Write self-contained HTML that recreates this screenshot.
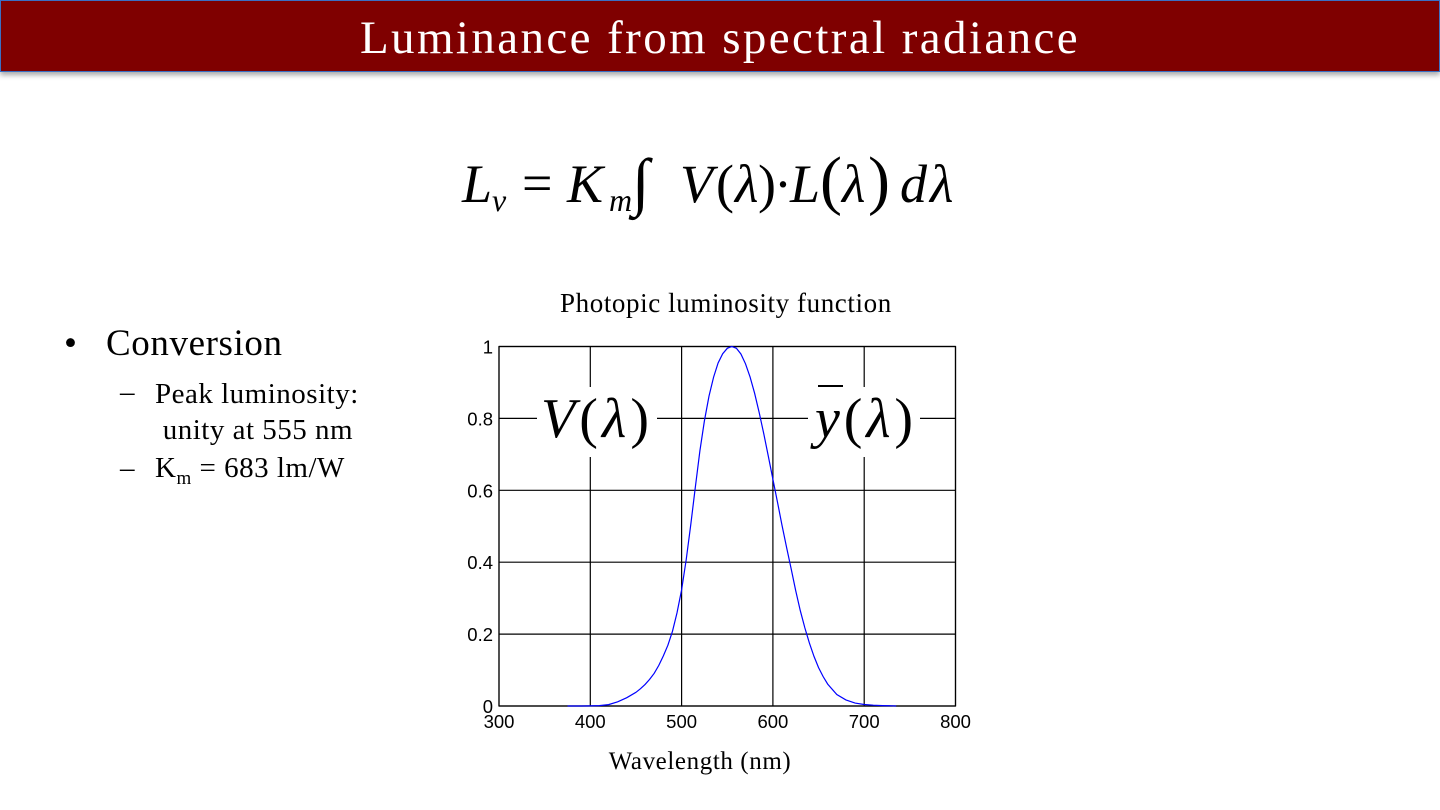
<!DOCTYPE html>
<html><head><meta charset="utf-8">
<style>
body{margin:0;width:1440px;height:810px;background:#fff;overflow:hidden;position:relative;font-family:"Liberation Serif",serif}
.title{position:absolute;left:0;top:0;width:1438px;height:70px;background:#7f0000;border:1px solid #3a6fc4;box-shadow:0 3px 5px rgba(0,0,0,.35);color:#fff;font-size:47px;letter-spacing:2.4px;text-align:center;line-height:74px}
.abs{position:absolute;white-space:nowrap}
.eq span{position:absolute;white-space:nowrap;font-style:italic;font-size:54px;line-height:1}
.eq span.r{font-style:normal}
</style></head><body>
<div class="title">Luminance from spectral radiance</div>
<div class="eq">
<span style="left:462px;top:157px">L</span>
<span style="left:492px;top:184px;font-size:32px">v</span>
<span class="r" style="left:522px;top:156px">=</span>
<span style="left:567px;top:157px">K</span>
<span style="left:609px;top:184px;font-size:32px">m</span>
<span class="r" style="left:632px;top:150px;font-size:64px">∫</span>
<span style="left:680px;top:157px">V</span>
<span class="r" style="left:716px;top:157px">(</span>
<span style="left:735px;top:157px">λ</span>
<span class="r" style="left:758px;top:157px">)</span>
<span class="r" style="left:774px;top:157px">·</span>
<span style="left:790px;top:157px">L</span>
<span class="r" style="left:820px;top:148px;font-size:66px">(</span>
<span style="left:842px;top:157px">λ</span>
<span class="r" style="left:868px;top:148px;font-size:66px">)</span>
<span style="left:900px;top:157px">d</span>
<span style="left:930px;top:157px">λ</span>
</div>
<div class="abs" style="left:560px;top:288px;font-size:27px;letter-spacing:0.6px">Photopic luminosity function</div>
<div class="abs" style="left:64px;top:322px;font-size:37px;letter-spacing:0.6px">•</div>
<div class="abs" style="left:106px;top:322px;font-size:37px;letter-spacing:0.6px">Conversion</div>
<div class="abs" style="left:120px;top:376px;font-size:29px">–</div>
<div class="abs" style="left:155px;top:376px;font-size:29px;letter-spacing:0.5px;line-height:36px">Peak luminosity:<br>&nbsp;unity at 555 nm</div>
<div class="abs" style="left:120px;top:452px;font-size:29px">–</div>
<div class="abs" style="left:155px;top:452px;font-size:29px;letter-spacing:0.5px">K<sub style="font-size:19px">m</sub> = 683 lm/W</div>
<svg id="chart" width="1440" height="810" style="position:absolute;left:0;top:0"></svg>
<script>
const wavelengths=[375,380,390,400,410,420,430,440,450,455,460,465,470,475,480,485,490,495,500,505,510,515,520,525,530,535,540,545,550,555,560,565,570,575,580,585,590,595,600,605,610,615,620,625,630,635,640,645,650,655,660,670,680,690,700,710,720,730,735];
const vValues=[0,0.00004,0.00012,0.0004,0.0012,0.004,0.0116,0.023,0.038,0.048,0.06,0.074,0.091,0.113,0.139,0.169,0.208,0.259,0.323,0.407,0.503,0.608,0.71,0.793,0.862,0.915,0.954,0.98,0.995,1.0,0.995,0.979,0.952,0.915,0.87,0.816,0.757,0.695,0.631,0.567,0.503,0.441,0.381,0.321,0.265,0.217,0.175,0.138,0.107,0.082,0.061,0.032,0.017,0.0082,0.0041,0.0021,0.00105,0.00052,0];
const xTicks=[300,400,500,600,700,800];
const yTicks=[0,0.2,0.4,0.6,0.8,1];
const yTickLabels=["0","0.2","0.4","0.6","0.8","1"];
const X0=499,X1=955.5,Y0=706,Y1=346.5;
const sx=v=>X0+(v-300)/500*(X1-X0);
const sy=v=>Y0-v*(Y0-Y1);
const svg=document.getElementById('chart');
const NS='http://www.w3.org/2000/svg';
function mk(t,a){const e=document.createElementNS(NS,t);for(const k in a)e.setAttribute(k,a[k]);svg.appendChild(e);return e;}
xTicks.forEach(t=>{
  const l=mk('line',{x1:sx(t),x2:sx(t),y1:Y1,y2:Y0,stroke:'#000','stroke-width':1.2});
  
  
  const tx=mk('text',{x:sx(t),y:728,'text-anchor':'middle','font-family':'Liberation Sans, sans-serif','font-size':18.5});
  tx.textContent=t;
  
  
});
yTicks.forEach((t,i)=>{
  const l=mk('line',{x1:X0,x2:X1,y1:sy(t),y2:sy(t),stroke:'#000','stroke-width':1.2});
  
  
  const tx=mk('text',{x:493,y:sy(t)+7,'text-anchor':'end','font-family':'Liberation Sans, sans-serif','font-size':18.5});
  tx.textContent=yTickLabels[i];
  
  
});
const fr=mk('rect',{x:X0,y:Y1,width:X1-X0,height:Y0-Y1,fill:'none',stroke:'#000','stroke-width':1.2});


const p=mk('path',{d:wavelengths.map((w,i)=>(i?'L':'M')+sx(w).toFixed(1)+','+sy(vValues[i]).toFixed(1)).join(''),fill:'none',stroke:'#0000ff','stroke-width':1.2});


const b1=mk('rect',{x:537,y:387,width:120,height:70,fill:'#fff'});


const t1=mk('text',{x:541,y:437,'font-family':'Liberation Serif, serif','font-size':56,'textLength':108});
t1.innerHTML='<tspan font-style="italic">V</tspan>(<tspan font-style="italic">λ</tspan>)';


const b2=mk('rect',{x:808,y:387,width:112,height:70,fill:'#fff'});


const t2=mk('text',{x:815,y:437,'font-family':'Liberation Serif, serif','font-size':56,'textLength':98});
t2.innerHTML='<tspan font-style="italic">y</tspan>(<tspan font-style="italic">λ</tspan>)';


const bar=mk('line',{x1:818,x2:843,y1:386,y2:386,stroke:'#000','stroke-width':2});


const xt=mk('text',{x:700,y:769,'text-anchor':'middle','font-family':'Liberation Serif, serif','font-size':25,'letter-spacing':0.6});
xt.textContent='Wavelength (nm)';


</script>
</body></html>
